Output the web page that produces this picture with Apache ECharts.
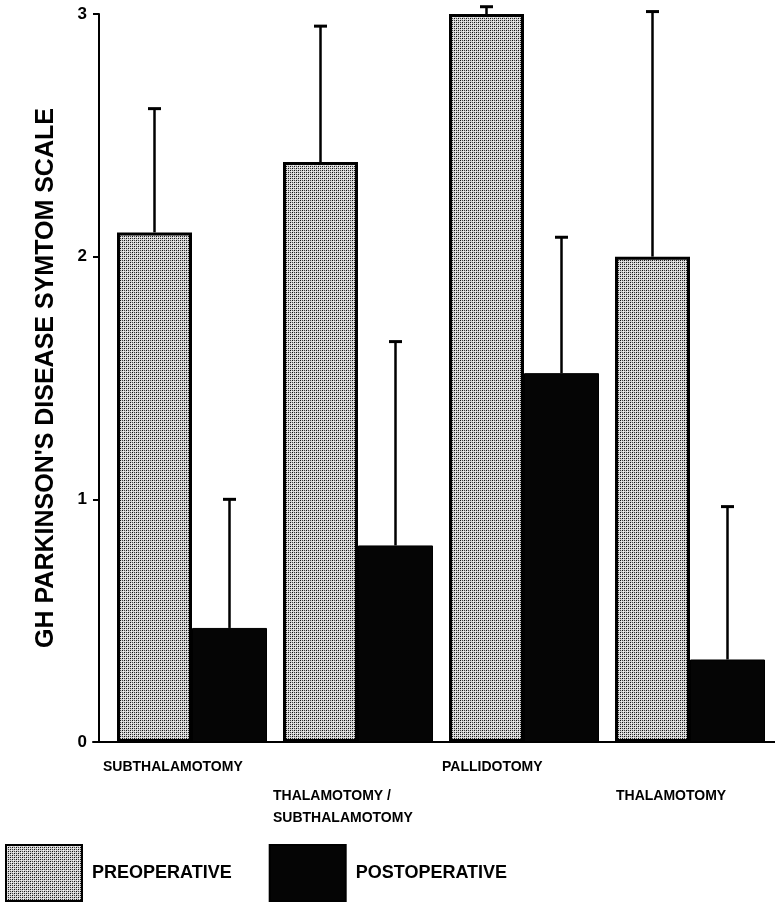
<!DOCTYPE html>
<html>
<head>
<meta charset="utf-8">
<script src="https://cdn.jsdelivr.net/npm/echarts@6/dist/echarts.min.js"></script>
<style>html,body{margin:0;padding:0;background:#fff;}#c{width:775px;height:902px;}</style>
</head>
<body>
<div id="c"></div>
<script>
// ---- data ----
var categories = ['SUBTHALAMOTOMY', 'THALAMOTOMY /\nSUBTHALAMOTOMY', 'PALLIDOTOMY', 'THALAMOTOMY'];
var preValues = [2.10, 2.39, 3.00, 2.00];
var postValues = [0.47, 0.81, 1.52, 0.34];
var preUpper = [2.61, 2.95, 3.03, 3.01];
var postUpper = [1.00, 1.65, 2.08, 0.97];
var yTicks = [0, 1, 2, 3];
var yTitle = "GH PARKINSON'S DISEASE SYMTOM SCALE";
var seriesNames = ['PREOPERATIVE', 'POSTOPERATIVE'];

// ---- style ----
var FONT = 'Liberation Sans';
var BAR_W = 75;
var LABEL_W = [178, 170, 164, 148];

function makePattern() {
  var c = document.createElement('canvas');
  c.width = 4; c.height = 4;
  var g = c.getContext('2d');
  g.fillStyle = '#d2d2d2'; g.fillRect(0, 0, 4, 4);
  g.fillStyle = '#111';
  g.fillRect(0, 0, 1, 1);
  g.fillRect(2, 2, 1, 1);
  g.fillStyle = '#444';
  g.fillRect(2, 0, 1, 1);
  g.fillRect(0, 2, 1, 1);
  g.fillStyle = '#f4f4f4';
  g.fillRect(1, 1, 1, 1);
  g.fillRect(3, 3, 1, 1);
  return c;
}
var prePattern = { image: makePattern(), repeat: 'repeat' };

var chart = echarts.init(document.getElementById('c'), null, { renderer: 'canvas' });

function errorSeries(name, vals, uppers, side) {
  return {
    type: 'custom',
    name: name + '_err',
    xAxisIndex: 0, yAxisIndex: 0,
    z: 5,
    data: vals.map(function (v, i) { return [i, v, uppers[i]]; }),
    renderItem: function (params, api) {
      var b = api.coord([api.value(0), api.value(1)]);
      var t = api.coord([api.value(0), api.value(2)]);
      var x = b[0] + side * BAR_W / 2;
      return {
        type: 'group',
        children: [
          { type: 'line', shape: { x1: x, y1: b[1], x2: x, y2: t[1] }, style: { stroke: '#000', lineWidth: 2.5 } },
          { type: 'line', shape: { x1: x - 6.5, y1: t[1], x2: x + 6.5, y2: t[1] }, style: { stroke: '#000', lineWidth: 3 } }
        ]
      };
    },
    silent: true
  };
}

var richStyles = {
  s: { height: 29, lineHeight: 29, fontSize: 10 }
};
LABEL_W.forEach(function (w, i) {
  richStyles['a' + i] = { width: w, align: 'left', fontFamily: FONT, fontWeight: 'bold', fontSize: 14, lineHeight: 22, color: '#000' };
});

var option = {
  backgroundColor: '#fff',
  animation: false,
  textStyle: { fontFamily: FONT },
  grid: [
    { left: 109, right: 2, top: 14, bottom: 160 },
    { left: 93, right: 0, top: 14, bottom: 160 }
  ],
  legend: {
    data: seriesNames,
    left: 5,
    top: 844,
    padding: 0,
    itemWidth: 76,
    itemHeight: 56,
    itemGap: 37,
    icon: 'rect',
    textStyle: { fontFamily: FONT, fontWeight: 'bold', fontSize: 18, color: '#000', padding: [0, 0, 0, 5] }
  },
  xAxis: [
    {
      type: 'category',
      gridIndex: 0,
      data: categories,
      axisLine: { show: true, lineStyle: { color: '#000', width: 2 } },
      axisTick: { show: false },
      axisLabel: {
        interval: 0,
        margin: 14,
        color: '#000',
        formatter: function (val, idx) {
          var lines = val.split('\n').map(function (l) { return '{a' + idx + '|' + l + '}'; });
          var s = lines.join('\n');
          if (idx % 2 === 1) s = '{s| }\n' + s;
          return s;
        },
        rich: richStyles
      }
    },
    {
      type: 'value',
      gridIndex: 1,
      min: 0, max: 1,
      axisLine: { show: true, lineStyle: { color: '#000', width: 2 } },
      axisTick: { show: false },
      axisLabel: { show: false },
      splitLine: { show: false }
    }
  ],
  yAxis: [
    {
      type: 'value',
      gridIndex: 0,
      min: 0, max: 3, interval: 1,
      offset: 10,
      name: yTitle,
      nameLocation: 'middle',
      nameGap: 40,
      nameRotate: 90,
      nameTextStyle: { fontFamily: FONT, fontWeight: 'bold', fontSize: 25, color: '#000' },
      axisLine: { show: true, lineStyle: { color: '#000', width: 2 } },
      axisTick: { show: true, length: 6, lineStyle: { color: '#000', width: 2 } },
      axisLabel: {
        margin: 12,
        color: '#000', fontFamily: FONT, fontWeight: 'bold', fontSize: 17,
        formatter: function (v) { return yTicks.indexOf(v) >= 0 ? String(v) : ''; }
      },
      splitLine: { show: false }
    },
    {
      type: 'value',
      gridIndex: 1,
      min: 0, max: 1,
      show: false
    }
  ],
  series: [
    {
      name: seriesNames[0],
      type: 'bar',
      xAxisIndex: 0, yAxisIndex: 0,
      data: preValues,
      barWidth: BAR_W,
      barGap: '0%',
      itemStyle: { color: prePattern, borderColor: '#000', borderWidth: 3 }
    },
    {
      name: seriesNames[1],
      type: 'bar',
      xAxisIndex: 0, yAxisIndex: 0,
      data: postValues,
      barWidth: BAR_W,
      barGap: '0%',
      itemStyle: { color: '#050505', borderColor: '#000', borderWidth: 1 }
    },
    errorSeries(seriesNames[0], preValues, preUpper, -1),
    errorSeries(seriesNames[1], postValues, postUpper, 1)
  ]
};
chart.setOption(option);
</script>
</body>
</html>
